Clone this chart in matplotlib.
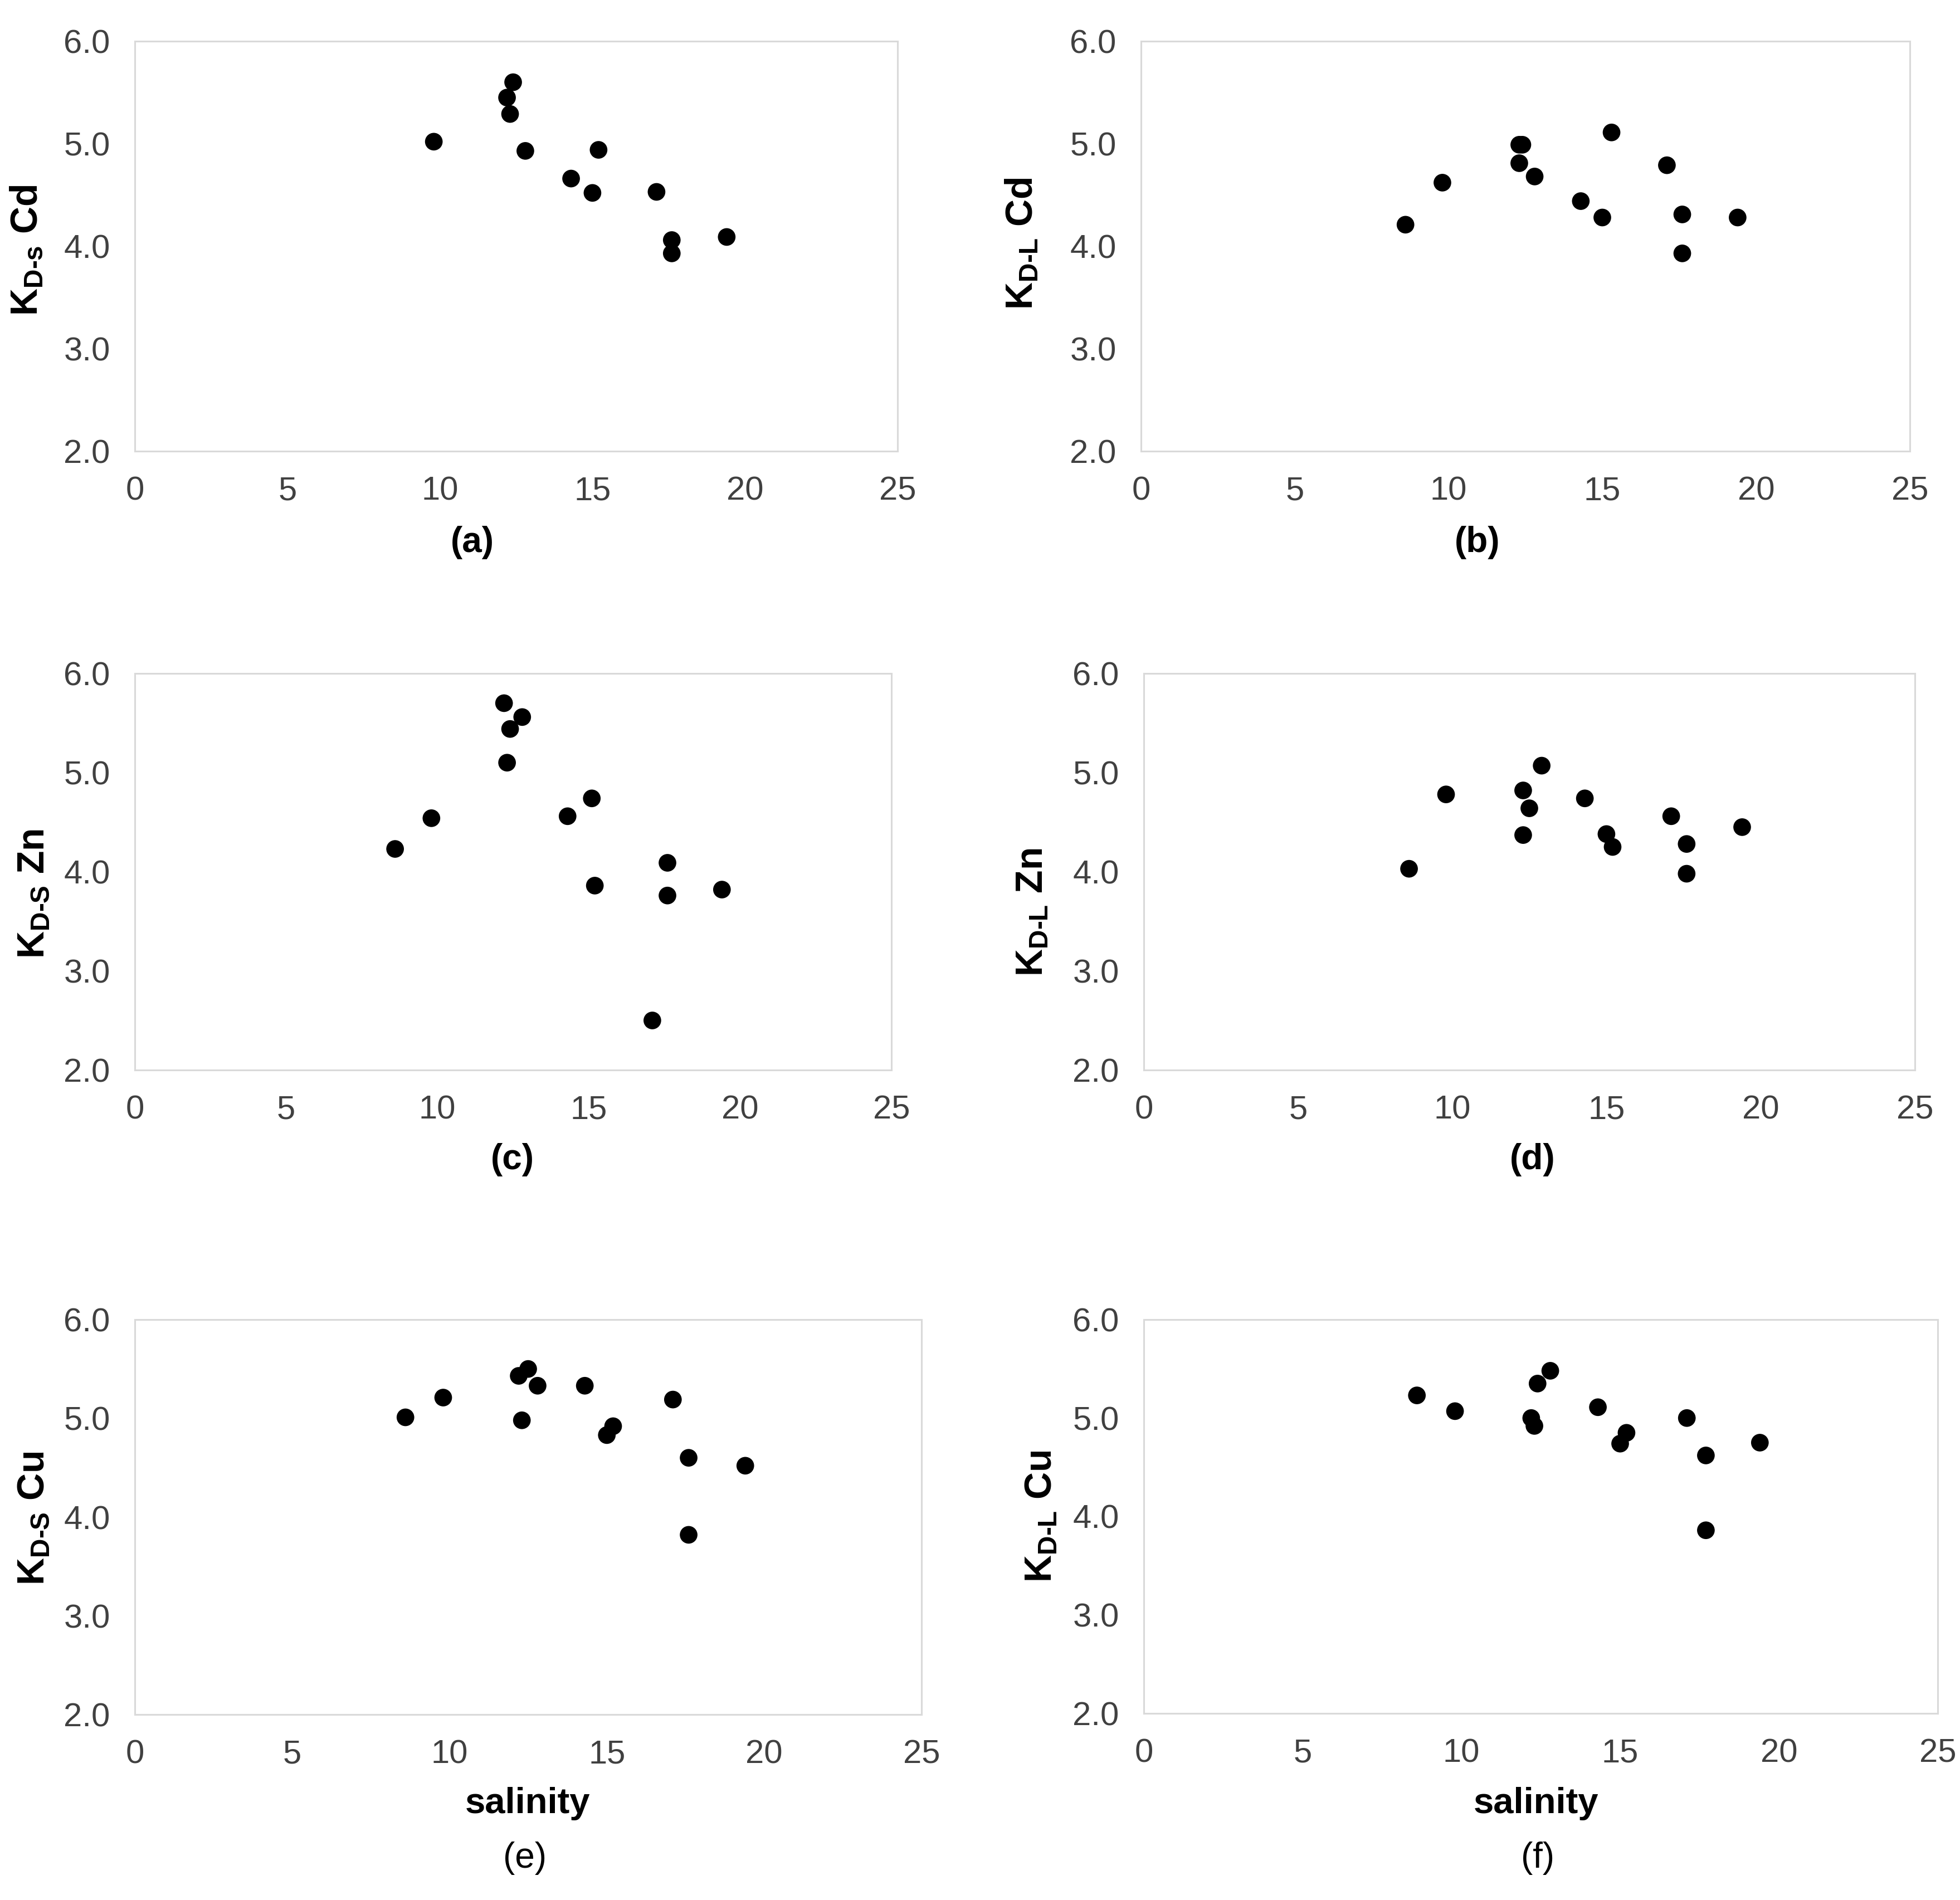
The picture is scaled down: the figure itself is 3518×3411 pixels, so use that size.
import matplotlib
matplotlib.use('Agg')
import matplotlib.pyplot as plt

plt.rcParams['font.family'] = ['Liberation Sans', 'DejaVu Sans']
plt.rcParams['mathtext.fontset'] = 'custom'
plt.rcParams['mathtext.rm'] = 'Liberation Sans:bold'
plt.rcParams['mathtext.bf'] = 'Liberation Sans:bold'
plt.rcParams['mathtext.default'] = 'bf'

# salinity vs log KD
salA = [9.8, 12.2, 12.4, 12.3, 12.8, 14.3, 15.2, 15.0, 17.1, 17.6, 17.6, 19.4]
kdsCd = [5.02, 5.45, 5.60, 5.29, 4.93, 4.66, 4.94, 4.52, 4.53, 4.06, 3.93, 4.09]

salB = [8.6, 9.8, 12.3, 12.4, 12.3, 12.8, 14.3, 15.0, 15.3, 17.1, 17.6, 17.6, 19.4]
kdlCd = [4.21, 4.62, 4.99, 4.99, 4.81, 4.68, 4.44, 4.28, 5.11, 4.79, 4.31, 3.93, 4.28]

salC = [8.6, 9.8, 12.2, 12.4, 12.8, 12.3, 14.3, 15.1, 15.2, 17.6, 17.6, 19.4, 17.1]
kdsZn = [4.23, 4.54, 5.70, 5.44, 5.56, 5.10, 4.56, 4.74, 3.86, 4.09, 3.76, 3.82, 2.50]

salD = [8.6, 9.8, 12.3, 12.5, 12.3, 12.9, 14.3, 15.0, 15.2, 17.1, 17.6, 17.6, 19.4]
kdlZn = [4.03, 4.78, 4.82, 4.64, 4.37, 5.07, 4.74, 4.38, 4.25, 4.56, 4.28, 3.98, 4.45]

salE = [8.6, 9.8, 12.2, 12.5, 12.8, 12.3, 14.3, 15.0, 15.2, 17.1, 17.6, 17.6, 19.4]
kdsCu = [5.01, 5.21, 5.43, 5.50, 5.33, 4.98, 5.33, 4.83, 4.92, 5.19, 4.60, 3.82, 4.52]

salF = [8.6, 9.8, 12.4, 12.8, 12.2, 12.3, 14.3, 15.0, 15.2, 17.1, 17.7, 17.7, 19.4]
kdlCu = [5.23, 5.07, 5.35, 5.48, 5.00, 4.92, 5.11, 4.74, 4.85, 5.00, 4.62, 3.86, 4.75]

W, H = 3518, 3411
fig = plt.figure(figsize=(W / 100, H / 100), dpi=100)

def px2fig(x, y):
    return x / W, 1 - y / H

panels = [
    # box (left, top, right, bottom) px, x, y, ylabel, ylabel pos, tag, tag pos, bold tag
    ((242, 74, 1611, 810), salA, kdsCd, r'K$_{\text{D-s}}$ Cd', (49, 449), '(a)', (848, 974), True),
    ((2048, 74, 3428, 810), salB, kdlCd, r'K$_{\text{D-L}}$ Cd', (1835, 437), '(b)', (2652, 974), True),
    ((242, 1209, 1600, 1921), salC, kdsZn, r'K$_{\text{D-S}}$ Zn', (61, 1604), '(c)', (920, 2082), True),
    ((2053, 1209, 3437, 1921), salD, kdlZn, r'K$_{\text{D-L}}$ Zn', (1853, 1638), '(d)', (2751, 2082), True),
    ((242, 2369, 1654, 3078), salE, kdsCu, r'K$_{\text{D-S}}$ Cu', (61, 2726), '(e)', (942, 3336), False),
    ((2053, 2369, 3478, 3076), salF, kdlCu, r'K$_{\text{D-L}}$ Cu', (1869, 2722), '(f)', (2760, 3336), False),
]

for box, xs, ys, ylab, ylpos, tag, tagpos, boldTag in panels:
    l, t, r, b = box
    ax = fig.add_axes([l / W, 1 - b / H, (r - l) / W, (b - t) / H])
    ax.scatter(xs, ys, s=520, color='black', edgecolors='none', zorder=3)
    ax.set_xlim(0, 25)
    ax.set_ylim(2, 6)
    ax.set_xticks([0, 5, 10, 15, 20, 25])
    ax.set_yticks([2, 3, 4, 5, 6])
    ax.set_yticklabels(['%.1f' % v for v in [2, 3, 4, 5, 6]])
    ax.tick_params(length=0, labelsize=43, colors='#404040', pad=32)
    for sp in ax.spines.values():
        sp.set_color('#d9d9d9')
        sp.set_linewidth(2.2)

    fx, fy = px2fig(*ylpos)
    fig.text(fx, fy, ylab, rotation=90, ha='center', va='center',
             fontsize=49, fontweight='bold')
    fx, fy = px2fig(*tagpos)
    fig.text(fx, fy, tag, ha='center', va='center', fontsize=46,
             fontweight='bold' if boldTag else 'normal')

# salinity labels under the bottom row
for xc in [947, 2757]:
    fx, fy = px2fig(xc, 3238)
    fig.text(fx, fy, 'salinity', ha='center', va='center', fontsize=47, fontweight='bold')

fig.savefig('out.png', dpi=100, facecolor='white')
